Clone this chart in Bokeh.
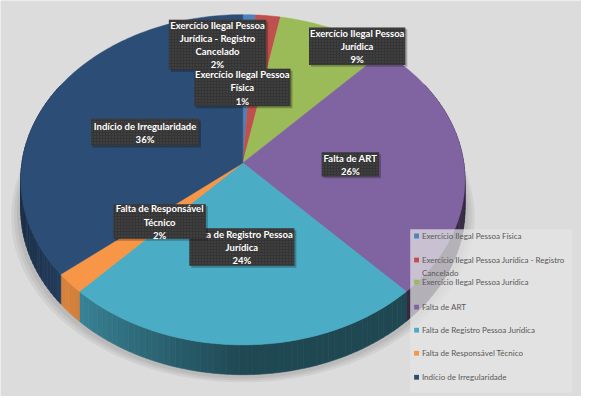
import numpy as np
from bokeh.plotting import figure
from bokeh.models import Range1d
from bokeh.embed import file_html
from bokeh.resources import INLINE
from bokeh.core.properties import value

# ---------------- data ----------------
categories = [
    "Exercício Ilegal Pessoa Física",
    "Exercício Ilegal Pessoa Jurídica - Registro Cancelado",
    "Exercício Ilegal Pessoa Jurídica",
    "Falta de ART",
    "Falta de Registro Pessoa Jurídica",
    "Falta de Responsável Técnico",
    "Indício de Irregularidade",
]
percent = [1, 2, 9, 26, 24, 2, 36]
pct_labels = ["1%", "2%", "9%", "26%", "24%", "2%", "36%"]
label_text = [
    "Exercício Ilegal Pessoa\nFísica",
    "Exercício Ilegal Pessoa\nJurídica - Registro\nCancelado",
    "Exercício Ilegal Pessoa\nJurídica",
    "Falta de ART",
    "Falta de Registro Pessoa\nJurídica",
    "Falta de Responsável\nTécnico",
    "Indício de Irregularidade",
]
legend_text = [
    "Exercício Ilegal Pessoa Física",
    "Exercício Ilegal Pessoa Jurídica - Registro\nCancelado",
    "Exercício Ilegal Pessoa Jurídica",
    "Falta de ART",
    "Falta de Registro Pessoa Jurídica",
    "Falta de Responsável Técnico",
    "Indício de Irregularidade",
]
colors = ["#4f81bd", "#c0504d", "#9bbb59", "#8064a2", "#4bacc6", "#f79646", "#2c4d75"]

# ---------------- layout (reference-pixel space) ----------------
W, H = 597, 412
CX, CY = 249.0, 169.0
R, RY, K, DEPTH = 227.0, 170.0, 0.102, 31.0
# label box centres/sizes (drawn in this order)
label_order = [4, 5, 6, 3, 2, 1, 0]
label_box = {
    0: (248.5, 90.5, 99, 39),
    1: (223.0, 46.0, 100, 52),
    2: (366.5, 47.5, 99, 39),
    3: (359.5, 170.5, 59, 25),
    4: (248.0, 256.5, 108, 39),
    5: (163.5, 230.0, 95, 36),
    6: (148.5, 137.0, 111, 28),
}
legend_y = [245, 270, 293, 319, 343, 367, 392]


def proj(t):
    d = 1 + K * np.cos(t)
    return CX + R * np.sin(t) / d, CY - RY * np.cos(t) / d


def shade(hexc, f):
    r, g, b = int(hexc[1:3], 16), int(hexc[3:5], 16), int(hexc[5:7], 16)
    return "#%02x%02x%02x" % (min(int(r * f), 255), min(int(g * f), 255), min(int(b * f), 255))


def side_factor(tdeg):
    if tdeg <= 228:
        return 0.42 + 0.38 * np.clip((tdeg - 180) / 48, 0, 1)
    return 0.80 - 0.16 * np.clip((tdeg - 228) / 25, 0, 1)


p = figure(width=581, height=396, output_backend="svg", toolbar_location=None,
           x_range=Range1d(0, W), y_range=Range1d(H, 0), min_border=0)
p.axis.visible = False
p.grid.visible = False
p.outline_line_color = None
p.background_fill_color = "#dcdcdc"
p.border_fill_color = "#dcdcdc"

# background gradient
gw, gh = 150, 104
yy, xx = np.mgrid[0:gh, 0:gw]
px = xx / (gw - 1) * W
py = yy / (gh - 1) * H
dist = np.sqrt(((px - 360) / 1.0) ** 2 + ((py + 40) / 1.05) ** 2)
br = np.clip(249 - 48 * (dist / 460) ** 1.4, 198, 250).astype(np.uint32)
img = np.empty((gh, gw), dtype=np.uint32)
view = img.view(dtype=np.uint8).reshape((gh, gw, 4))
view[:, :, 0] = br
view[:, :, 1] = br
view[:, :, 2] = br
view[:, :, 3] = 255
p.image_rgba(image=[img[::-1]], x=0, y=H, dw=W, dh=H)

# soft shadow under the pie
for i, a in enumerate([0.05, 0.05, 0.05]):
    ts = np.linspace(0, 2 * np.pi, 200)
    sx, sy = proj(ts)
    grow = 4 + i * 3
    p.patch(CX + (sx - CX) * (1 + grow / 230), sy + DEPTH + 4 + i * 2,
            fill_color="black", fill_alpha=a, line_color=None)

# slice angles
frac = np.array(percent, dtype=float) / sum(percent)
ends = np.cumsum(frac) * 2 * np.pi
starts = ends - frac * 2 * np.pi

# sides (drawn first)
xs_side, ys_side, c_side = [], [], []
for i in range(len(percent)):
    n = max(int(np.degrees(ends[i] - starts[i]) / 1.5), 2)
    ts = np.linspace(starts[i], ends[i], n + 1)
    for a0, a1 in zip(ts[:-1], ts[1:]):
        tm = np.degrees((a0 + a1) / 2)
        if tm < 60 or tm > 300:
            continue
        f = side_factor(tm)
        if colors[i] == "#f79646":
            f = min(f + 0.08, 1.0)
        x0, y0 = proj(a0)
        x1, y1 = proj(a1)
        xs_side.append([x0, x1, x1, x0])
        ys_side.append([y0, y1, y1 + DEPTH, y0 + DEPTH])
        c_side.append(shade(colors[i], f))
p.patches(xs_side, ys_side, fill_color=c_side, line_color=c_side, line_width=0.6)

# top faces
xs_top, ys_top = [], []
for i in range(len(percent)):
    ts = np.linspace(starts[i], ends[i], max(int(np.degrees(ends[i] - starts[i])), 2) + 1)
    ax, ay = proj(ts)
    xs_top.append([CX] + list(ax))
    ys_top.append([CY] + list(ay))
p.patches(xs_top, ys_top, fill_color=colors, line_color=colors, line_width=0.5)

# data labels
for i in label_order:
    bx, by, bw, bh = label_box[i]
    p.rect(x=bx + 2, y=by + 2, width=bw, height=bh, fill_color="black",
           fill_alpha=0.25, line_color=None)
    p.rect(x=bx, y=by, width=bw, height=bh, fill_color="#353535", line_color=None,
           hatch_pattern="dot", hatch_color="#4c4c4c", hatch_scale=3, hatch_weight=0.7)
    p.text(x=[bx], y=[by + 0.5], text=[label_text[i] + "\n" + pct_labels[i]],
           text_font=value("Lato"), text_font_style="bold", text_font_size="9.5px",
           text_color="white", text_align="center", text_baseline="middle",
           text_line_height=1.2)

# legend
p.rect(x=504, y=323, width=166, height=170, fill_color="#e4e4e4", fill_alpha=0.72,
       line_color=None)
for i in range(len(categories)):
    p.rect(x=[427.5], y=[legend_y[i]], width=5, height=5, fill_color=colors[i],
           line_color=None)
    p.text(x=[433], y=[legend_y[i] - 5.5], text=[legend_text[i]],
           text_font=value("Lato"), text_font_size="8px", text_color="#595959",
           text_align="left", text_baseline="top", text_line_height=1.35)

open("out.html", "w").write(file_html(p, INLINE))
